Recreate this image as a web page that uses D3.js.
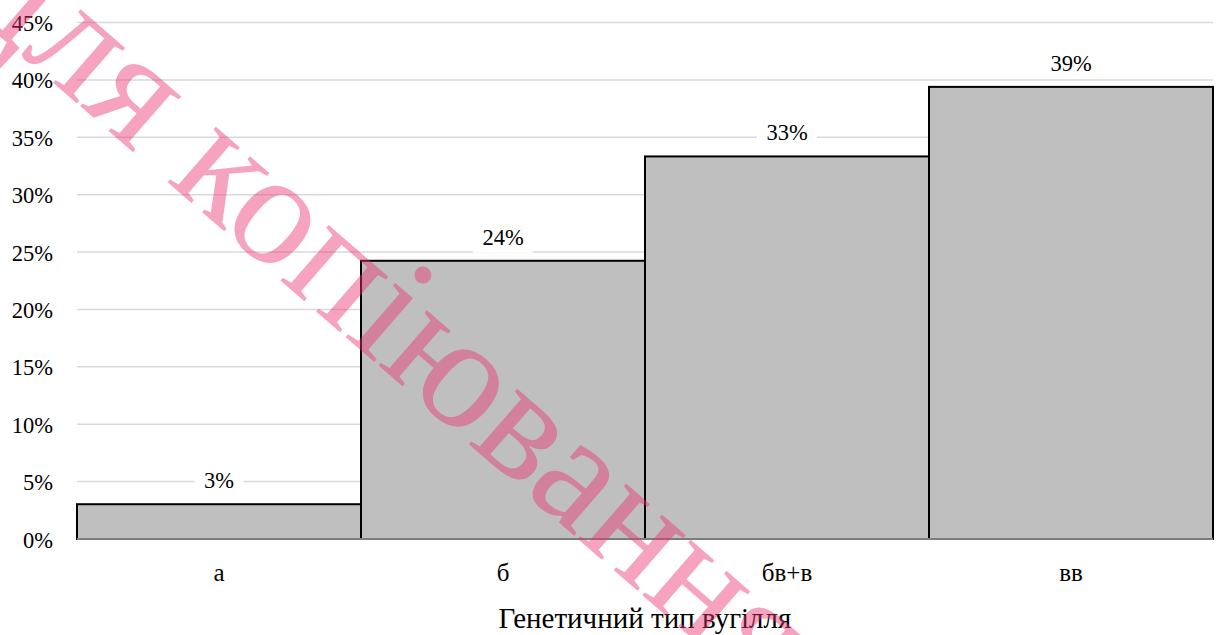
<!DOCTYPE html>
<html>
<head>
<meta charset="utf-8">
<script src="https://cdnjs.cloudflare.com/ajax/libs/d3/7.8.5/d3.min.js"></script>
</head>
<body style="margin:0; background:#fff">
<div id="chart-area"></div>
<script>
/*
*    Bar chart - genetic coal type distribution
*/

var categories = ["а", "б", "бв+в", "вв"];
var shares = [0.0303, 0.2424, 0.3333, 0.3939];
var labels = ["3%", "24%", "33%", "39%"];
var yTicks = [0, 0.05, 0.10, 0.15, 0.20, 0.25, 0.30, 0.35, 0.40, 0.45];
var xTitle = "Генетичний тип вугілля";
var watermark = "для копіювання";

var FONT = "'Liberation Serif', 'Times New Roman', serif";

var margin = { left: 77, right: 3, top: 22.5, bottom: 96 };
var width = 1216 - margin.left - margin.right;
var height = 635 - margin.top - margin.bottom;

var svg = d3.select("#chart-area")
    .append("svg")
        .attr("width", 1216)
        .attr("height", 635)
        .style("display", "block");

var g = svg.append("g")
    .attr("transform", "translate(" + margin.left + "," + margin.top + ")");

var x = d3.scaleBand()
    .domain(categories)
    .range([0, width])
    .padding(0);

var y = d3.scaleLinear()
    .domain([0, 0.45])
    .range([height, 0]);

// gridlines
g.selectAll(".grid")
    .data(yTicks.slice(1))
  .enter().append("line")
    .attr("class", "grid")
    .attr("x1", 0)
    .attr("x2", width)
    .attr("y1", d => y(d))
    .attr("y2", d => y(d))
    .attr("stroke", "#d9d9d9")
    .attr("stroke-width", 1.5);

// y tick labels
var yAxis = d3.axisLeft(y)
    .tickValues(yTicks)
    .tickFormat(d3.format(".0%"))
    .tickSize(0)
    .tickPadding(24);

g.append("g")
    .attr("class", "y-axis")
    .call(yAxis)
    .call(s => s.select(".domain").remove())
    .selectAll("text")
        .style("font-size", "22.5px")
        .style("font-family", FONT)
        .attr("fill", "#000")
        .attr("dy", "8");

// bars
g.selectAll(".bar")
    .data(shares)
  .enter().append("rect")
    .attr("class", "bar")
    .attr("x", (d, i) => x(categories[i]))
    .attr("y", d => y(d))
    .attr("width", x.bandwidth())
    .attr("height", d => height - y(d))
    .attr("fill", "#bfbfbf")
    .attr("stroke", "#000")
    .attr("stroke-width", 2);

// baseline
g.append("line")
    .attr("x1", 0)
    .attr("x2", width)
    .attr("y1", y(0))
    .attr("y2", y(0))
    .attr("stroke", "#a6a6a6")
    .attr("stroke-width", 1.5);

// value labels with white boxes
var valueG = g.selectAll(".value")
    .data(shares)
  .enter().append("g")
    .attr("class", "value")
    .attr("transform", (d, i) => "translate(" + (x(categories[i]) + x.bandwidth() / 2) + "," + (y(d) - 16) + ")");

valueG.append("text")
    .attr("text-anchor", "middle")
    .style("font-size", "22.5px")
    .style("font-family", FONT)
    .text((d, i) => labels[i]);

valueG.insert("rect", "text")
    .attr("x", function() { return -this.parentNode.querySelector("text").getBBox().width / 2 - 9.5; })
    .attr("y", -19)
    .attr("width", function() { return this.parentNode.querySelector("text").getBBox().width + 19; })
    .attr("height", 27)
    .attr("fill", "#fff");

// category labels
var xAxis = d3.axisBottom(x)
    .tickSize(0)
    .tickPadding(0);

g.append("g")
    .attr("class", "x-axis")
    .attr("transform", "translate(0," + height + ")")
    .call(xAxis)
    .call(s => s.select(".domain").remove())
    .selectAll("text")
        .style("font-size", "25px")
        .style("font-family", FONT)
        .attr("fill", "#000")
        .attr("dy", "42");

// axis title
svg.append("text")
    .attr("x", margin.left + width / 2)
    .attr("y", 628)
    .attr("text-anchor", "middle")
    .style("font-size", "29px")
    .style("font-family", FONT)
    .text(xTitle);

// watermark
svg.append("text")
    .attr("transform", "translate(-42,0) rotate(41)")
    .style("font-size", "160px")
    .style("font-family", FONT)
    .style("fill", "#e8336f")
    .style("fill-opacity", 0.45)
    .text(watermark);
</script>
</body>
</html>
